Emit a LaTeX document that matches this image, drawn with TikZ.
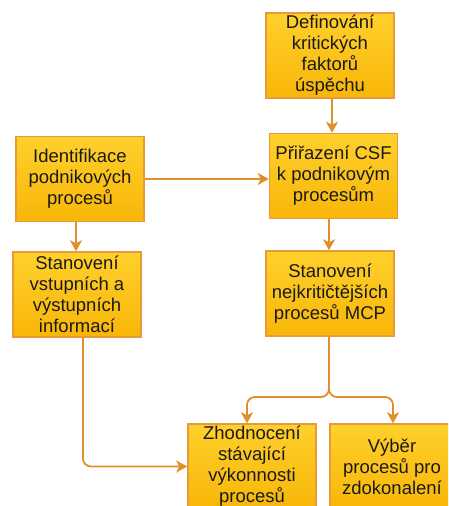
\documentclass[tikz,border=0pt]{standalone}
\usepackage{fontspec}
\setmainfont{Liberation Sans}
\usetikzlibrary{arrows.meta}
\definecolor{boxtop}{HTML}{FFD02C}
\definecolor{boxbot}{HTML}{F8B608}
\definecolor{boxline}{HTML}{E89A38}
\definecolor{arrcol}{HTML}{E0902A}
\definecolor{txt}{HTML}{1A1A1A}
\tikzset{
  box/.style={draw=boxline, line width=1.5pt, top color=boxtop, bottom color=boxbot,
    minimum width=128pt, minimum height=85pt, inner sep=0pt, align=center,
    text=txt, font=\fontsize{18.5}{21}\selectfont},
  arr/.style={draw=arrcol, line width=1.8pt, -{Stealth[length=11pt,width=12pt,inset=3pt]}},
}
\begin{document}
\begin{tikzpicture}[x=1pt,y=-1pt]
\useasboundingbox (0,0) rectangle (448,506);
\clip (0,0) rectangle (448,506);
\fill[white] (0,0) rectangle (448,506);
\node[box] (def) at (330,55.5) {Definování\\kritických\\faktorů\\úspěchu};
\node[box] (prir) at (333.5,176) {Přiřazení CSF\\k podnikovým\\procesům};
\node[box] (ident) at (80,179) {Identifikace\\podnikových\\procesů};
\node[box] (stanov) at (77,294.5) {Stanovení\\vstupních a\\výstupních\\informací};
\node[box] (mcp) at (330,293.5) {Stanovení\\nejkritičtějších\\procesů MCP};
\node[box] (zhod) at (252,466.5) {Zhodnocení\\stávající\\výkonnosti\\procesů};
\node[box, minimum width=124pt] (vyber) at (392,466.5) {Výběr\\procesů pro\\zdokonalení};
\coordinate (s1) at (83,338);
\coordinate (split) at (329,397);
\draw[arr] (def.south -| 332,0) -- (prir.north -| 332,0);
\draw[arr] (ident.east) -- (prir.west |- ident.east);
\draw[arr] (prir.south -| 329,0) -- (mcp.north -| 329,0);
\draw[arr] (ident.south -| 76,0) -- (stanov.north -| 76,0);
\draw[arr, rounded corners=8pt] (stanov.south -| s1) -- (s1 |- zhod.west) -- (zhod.west);
\draw[arr, rounded corners=8pt] (mcp.south -| split) -- (split) -- (247,397) -- (zhod.north -| 247,0);
\draw[arr, rounded corners=8pt] (mcp.south -| split) -- (split) -- (393,397) -- (vyber.north -| 393,0);
\end{tikzpicture}
\end{document}
